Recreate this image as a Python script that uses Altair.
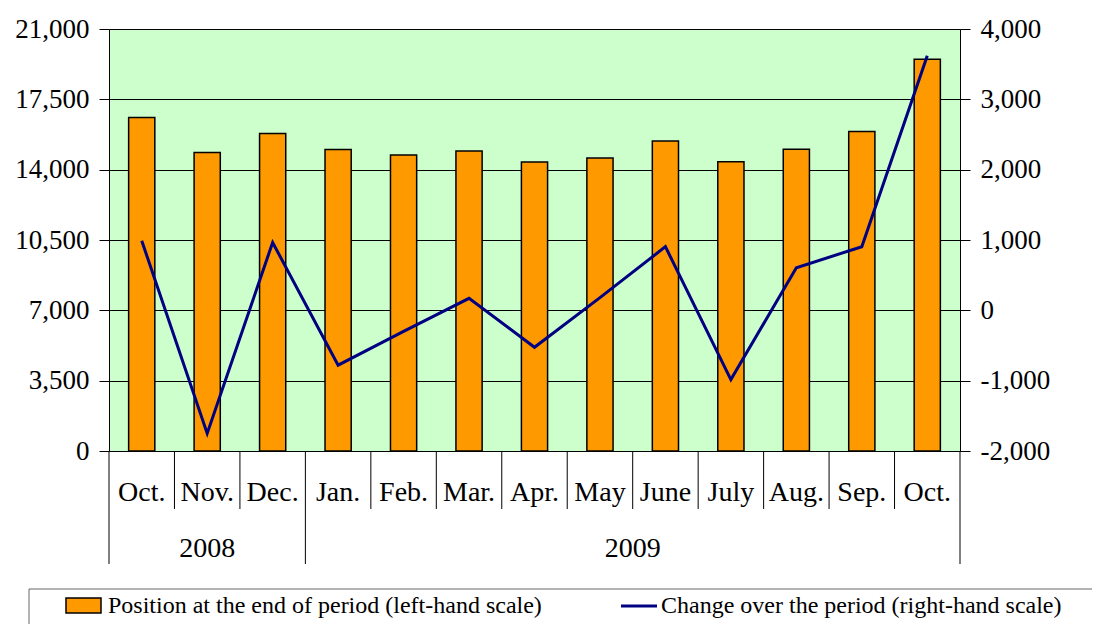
import altair as alt
import pandas as pd

# ---- data ----
months = ["Oct.", "Nov.", "Dec.", "Jan.", "Feb.", "Mar.", "Apr.", "May", "June",
          "July", "Aug.", "Sep.", "Oct."]
position = [16600, 14850, 15800, 15000, 14730, 14930, 14380, 14580, 15430,
            14400, 15010, 15900, 19500]
change = [990, -1750, 965, -780, -300, 170, -525, 180, 905, -985, 605, 905, 3620]
year_labels = ["2008", "2009"]
year_counts = [3, 10]
legend_labels = ["Position at the end of period (left-hand scale)",
                 "Change over the period (right-hand scale)"]
left_ticks = [0, 3500, 7000, 10500, 14000, 17500, 21000]
right_ticks = [-2000, -1000, 0, 1000, 2000, 3000, 4000]

FONT = "Liberation Serif, Times New Roman, serif"
W, H = 851, 422
N = len(months)

df = pd.DataFrame({"i": list(range(N)), "month": months, "pos": position, "chg": change})
df["c"] = df["i"] + 0.5
df["b0"] = df["i"] + 0.3
df["b1"] = df["i"] + 0.7

# year boundaries / centres
bounds = [0]
for cnt in year_counts:
    bounds.append(bounds[-1] + cnt)
yr = pd.DataFrame({
    "year": year_labels,
    "c": [(bounds[k] + bounds[k + 1]) / 2 for k in range(len(year_labels))],
})
year_b = pd.DataFrame({"b": bounds})
month_b = pd.DataFrame({"b": [b for b in range(1, N) if b not in bounds]})

xs = alt.Scale(domain=[0, N], nice=False, zero=False)
num_label = "datum.value < 0 ? '-' + format(-datum.value, ',') : format(datum.value, ',')"

bars = alt.Chart(df).mark_rect(color="#FF9900", stroke="#000000", strokeWidth=1.5).encode(
    x=alt.X("b0:Q", scale=xs, axis=None),
    x2="b1:Q",
    y=alt.Y("pos:Q", scale=alt.Scale(domain=[0, 21000], nice=False),
            axis=alt.Axis(values=left_ticks, labelExpr=num_label, grid=True, gridColor="#000000",
                          gridWidth=1, gridOpacity=1, tickSize=10, labelPadding=10,
                          title=None, domainColor="#000000")),
    y2=alt.datum(0),
)

month_sep = alt.Chart(month_b).mark_rule(color="#000000", strokeWidth=1).encode(
    x=alt.X("b:Q", scale=xs, axis=None), y=alt.value(H), y2=alt.value(H + 58))
year_sep = alt.Chart(year_b).mark_rule(color="#000000", strokeWidth=1).encode(
    x=alt.X("b:Q", scale=xs, axis=None), y=alt.value(H), y2=alt.value(H + 113))

month_txt = alt.Chart(df).mark_text(font=FONT, fontSize=28, baseline="middle", color="#000").encode(
    x=alt.X("c:Q", scale=xs, axis=None), y=alt.value(H + 42), text="month:N")
year_txt = alt.Chart(yr).mark_text(font=FONT, fontSize=28, baseline="middle", color="#000").encode(
    x=alt.X("c:Q", scale=xs, axis=None), y=alt.value(H + 98), text="year:N")

one = pd.DataFrame({"k": [0]})
leg_box = alt.Chart(one).mark_rect(fill="white", stroke="#666666", strokeWidth=1).encode(
    x=alt.value(-80), x2=alt.value(1000), y=alt.value(560), y2=alt.value(660))
leg_sw1 = alt.Chart(one).mark_rect(fill="#FF9900", stroke="#000000", strokeWidth=1.5).encode(
    x=alt.value(-43), x2=alt.value(-8), y=alt.value(569), y2=alt.value(584))
leg_sw2 = alt.Chart(one).mark_rule(color="#000080", strokeWidth=3).encode(
    x=alt.value(512), x2=alt.value(548), y=alt.value(577))
leg_t1 = alt.Chart(pd.DataFrame({"t": [legend_labels[0]]})).mark_text(
    font=FONT, fontSize=24, align="left", baseline="middle", color="#000").encode(
    x=alt.value(-1), y=alt.value(577), text="t:N")
leg_t2 = alt.Chart(pd.DataFrame({"t": [legend_labels[1]]})).mark_text(
    font=FONT, fontSize=24, align="left", baseline="middle", color="#000").encode(
    x=alt.value(552), y=alt.value(577), text="t:N")

left = alt.layer(bars, leg_box, month_sep, year_sep, month_txt, year_txt,
                 leg_sw1, leg_sw2, leg_t1, leg_t2)

line = alt.Chart(df).mark_line(color="#000080", strokeWidth=3).encode(
    x=alt.X("c:Q", scale=xs, axis=None),
    y=alt.Y("chg:Q", scale=alt.Scale(domain=[-2000, 4000], nice=False, zero=False),
            axis=alt.Axis(orient="right", values=right_ticks, labelExpr=num_label, grid=False,
                          tickSize=10, labelPadding=10, title=None, domainColor="#000000")),
)

chart = alt.layer(left, line).resolve_scale(y="independent").properties(
    width=W, height=H,
    autosize=alt.AutoSizeParams(type="none"),
    padding={"left": 101, "top": 21, "right": 132, "bottom": 173},
).configure_view(
    fill="#CCFFCC", stroke="#808080", strokeWidth=1
).configure_axis(
    labelFont=FONT, labelFontSize=27, labelColor="#000000", tickColor="#000000",
    domainWidth=1, tickWidth=1,
)

chart.save("out.html", embed_options={"renderer": "svg", "actions": False})
